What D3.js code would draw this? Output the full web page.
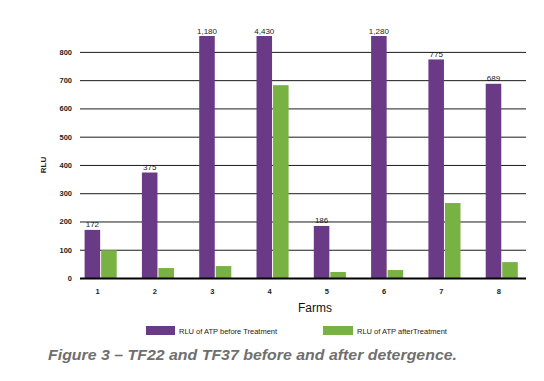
<!DOCTYPE html>
<html>
<head>
<meta charset="utf-8">
<script src="https://cdn.jsdelivr.net/npm/d3@7/dist/d3.min.js"></script>
<style>
body { margin: 0; background: #fff; }
svg { display: block; }
</style>
</head>
<body>
<svg id="chart" width="544" height="381"></svg>
<script>
const farms = ["1", "2", "3", "4", "5", "6", "7", "8"];
const beforeValues = [172, 375, 1180, 4430, 186, 1280, 775, 689];
const afterValues = [100, 37, 44, 684, 23, 30, 267, 58];
const beforeLabels = ["172", "375", "1,180", "4,430", "186", "1,280", "775", "689"];
const yTicks = [0, 100, 200, 300, 400, 500, 600, 700, 800];
const seriesNames = ["RLU of ATP before Treatment", "RLU of ATP afterTreatment"];
const colors = ["#6b3a87", "#77b243"];

const svg = d3.select("#chart");
const yMax = 858;
const y = d3.scaleLinear().domain([0, yMax]).range([278.5, 36]);
const x = d3.scaleBand().domain(farms).range([72, 530.4]).paddingInner(0.44).paddingOuter(0.22);
const xs = d3.scaleBand().domain([0, 1]).range([0, x.bandwidth()]).paddingInner(0.06);

// gridlines
const grid = svg.append("g");
grid.selectAll("line").data(yTicks.filter(d => d > 0)).join("line")
  .attr("x1", 80).attr("x2", 526)
  .attr("y1", d => y(d)).attr("y2", d => y(d))
  .attr("stroke", "#000").attr("stroke-width", 0.9);

// y tick labels
svg.append("g").selectAll("text").data(yTicks).join("text")
  .attr("x", 72).attr("y", d => y(d) + 2.5)
  .attr("text-anchor", "end")
  .attr("font-family", "Liberation Sans Narrow, Liberation Sans, sans-serif")
  .attr("font-size", 7.5).attr("font-weight", "bold").attr("fill", "#222")
  .text(d => d);

// bars
const groups = svg.append("g").selectAll("g").data(farms).join("g")
  .attr("transform", d => `translate(${x(d)},0)`);
groups.append("rect")
  .attr("x", xs(0)).attr("width", xs.bandwidth())
  .attr("y", (d, i) => y(Math.min(beforeValues[i], yMax)))
  .attr("height", (d, i) => y(0) - y(Math.min(beforeValues[i], yMax)))
  .attr("fill", colors[0]);
groups.append("rect")
  .attr("x", xs(1)).attr("width", xs.bandwidth())
  .attr("y", (d, i) => y(Math.min(afterValues[i], yMax)))
  .attr("height", (d, i) => y(0) - y(Math.min(afterValues[i], yMax)))
  .attr("fill", colors[1]);
groups.append("text")
  .attr("x", xs(0) + xs.bandwidth() / 2)
  .attr("y", (d, i) => y(Math.min(beforeValues[i], yMax)) - 2.5)
  .attr("text-anchor", "middle")
  .attr("font-family", "Liberation Sans Narrow, Liberation Sans, sans-serif")
  .attr("font-size", 8).attr("fill", "#1a1a1a")
  .text((d, i) => beforeLabels[i]);

// baseline
svg.append("line").attr("x1", 80).attr("x2", 526)
  .attr("y1", y(0)).attr("y2", y(0))
  .attr("stroke", "#000").attr("stroke-width", 2);

// x tick labels
svg.append("g").selectAll("text").data(farms).join("text")
  .attr("x", d => x(d) + x.bandwidth() / 2 - 3)
  .attr("y", 294)
  .attr("text-anchor", "middle")
  .attr("font-family", "Liberation Sans Narrow, Liberation Sans, sans-serif")
  .attr("font-size", 7.5).attr("font-weight", "bold").attr("fill", "#222")
  .text(d => d);

// axis titles
svg.append("text").attr("x", 315).attr("y", 312)
  .attr("text-anchor", "middle")
  .attr("font-family", "Liberation Sans, Arial, sans-serif")
  .attr("font-size", 12).attr("fill", "#111")
  .text("Farms");
svg.append("text")
  .attr("transform", "translate(46,165) rotate(-90)")
  .attr("text-anchor", "middle")
  .attr("font-family", "Liberation Sans Narrow, Liberation Sans, sans-serif")
  .attr("font-size", 8).attr("font-weight", "bold").attr("fill", "#222")
  .text("RLU");

// legend
const legendX = [146, 323];
const leg = svg.append("g").selectAll("g").data(seriesNames).join("g")
  .attr("transform", (d, i) => `translate(${legendX[i]},326)`);
leg.append("rect").attr("width", (d, i) => i === 0 ? 29 : 30).attr("height", 9)
  .attr("fill", (d, i) => colors[i]);
leg.append("text").attr("x", (d, i) => i === 0 ? 33 : 34).attr("y", 7.5)
  .attr("font-family", "Liberation Sans Narrow, Liberation Sans, sans-serif")
  .attr("font-size", 7.5).attr("fill", "#222")
  .text(d => d);

// caption
svg.append("text").attr("x", 48).attr("y", 360)
  .attr("font-family", "Liberation Sans, Arial, sans-serif")
  .attr("font-size", 15.5).attr("font-weight", "bold").attr("font-style", "italic")
  .attr("fill", "#6f6f6f")
  .attr("textLength", 409).attr("lengthAdjust", "spacingAndGlyphs")
  .text("Figure 3 – TF22 and TF37 before and after detergence.");
</script>
</body>
</html>
